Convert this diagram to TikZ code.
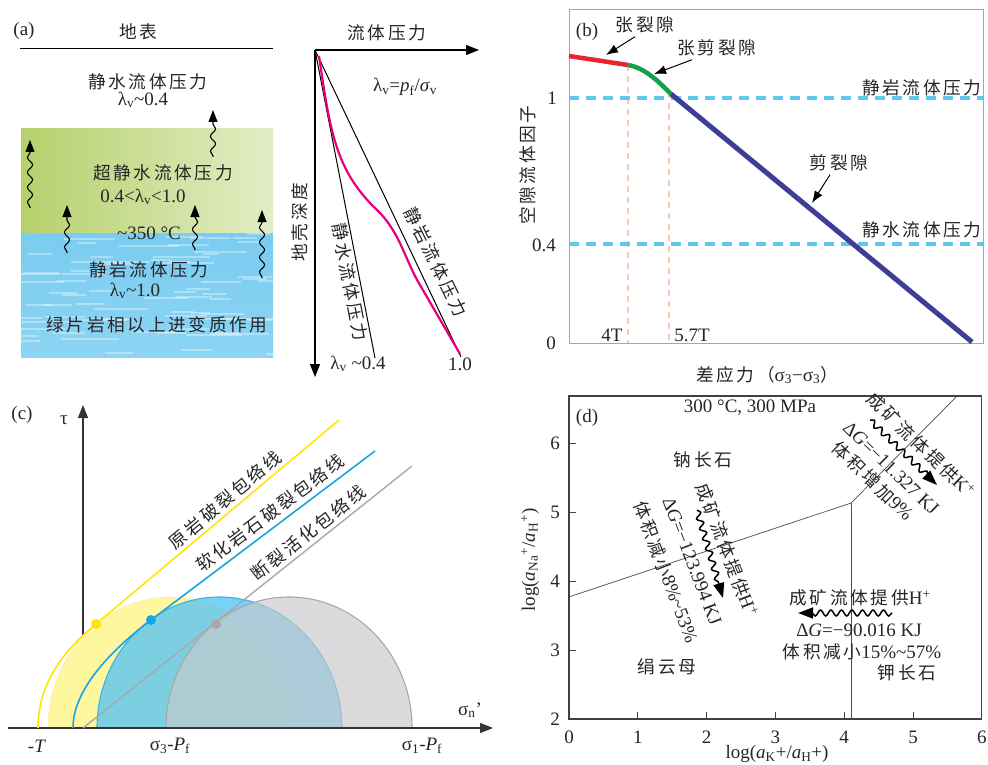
\documentclass[tikz,border=0pt]{standalone}
\usepackage{fontspec}
\setmainfont{Liberation Serif}
\newfontfamily\cjk[LetterSpace=15,Scale=0.93]{Noto Sans CJK SC}
\usetikzlibrary{arrows.meta}
\usetikzlibrary{decorations.pathmorphing}
\newcommand{\zh}[1]{{\cjk #1}}

\definecolor{grassL}{RGB}{182,208,108}
\definecolor{grassR}{RGB}{226,237,198}
\definecolor{seaT}{RGB}{122,204,240}
\definecolor{seaB}{RGB}{140,212,244}
\definecolor{pfCurve}{RGB}{230,0,126}
\definecolor{tensRed}{RGB}{232,38,42}
\definecolor{mixGreen}{RGB}{20,160,75}
\definecolor{shearBlue}{RGB}{62,62,150}
\definecolor{waterDash}{RGB}{95,200,240}
\definecolor{peachDash}{RGB}{249,200,180}
\definecolor{envYellow}{RGB}{255,230,0}
\definecolor{circYellow}{RGB}{255,246,160}
\definecolor{envBlue}{RGB}{25,165,225}
\definecolor{circBlue}{RGB}{90,198,240}
\definecolor{envGray}{RGB}{168,168,168}
\definecolor{circGray}{RGB}{200,201,204}

\tikzset{
  wavy/.style={line width=1.1pt, decorate,
    decoration={snake, amplitude=2.6pt, segment length=15pt, pre length=1pt, post length=9pt},
    -{Triangle[length=12pt,width=9pt]}},
  bigwavy/.style={line width=1.5pt, decorate,
    decoration={snake, amplitude=3pt, segment length=10.5pt, post length=12pt},
    -{Triangle[length=15pt,width=11pt]}},
  axis/.style={line width=1.4pt, -{Triangle[length=13pt,width=10pt]}},
  ptr/.style={line width=1pt, -{Latex[length=12pt,width=9pt]}},
  waterline/.style={waterDash, line width=3.5pt, dash pattern=on 10pt off 7pt},
  peakline/.style={peachDash, line width=2pt, dash pattern=on 6pt off 5pt},
}

\begin{document}
\begin{tikzpicture}[x=1pt,y=-1pt,font=\fontsize{19}{22}\selectfont,text=black!85]
\fill[white] (0,0) rectangle (988,765);
\path[use as bounding box] (0,0) rectangle (988,765);

% (a) fluid pressure regimes
\node (tagA) at (24,31) {(a)};
\node (surf) at (138,32) {\zh{地表}};
\draw[line width=1pt] (20,49) -- (273,49);
\shade[left color=grassL, right color=grassR] (21,129) rectangle (273,233);
\shade[top color=seaT, bottom color=seaB] (21,233) rectangle (273,357);
\begin{scope}
  \clip (21,233) rectangle (273,357);
  \pgfmathsetseed{11}
  \foreach \k in {1,...,70}{
    \pgfmathsetmacro\sx{10+rnd*260}
    \pgfmathsetmacro\sy{233+rnd*124}
    \pgfmathsetmacro\sl{15+rnd*45}
    \draw[white, opacity=0.35, line width=2pt] (\sx,\sy) -- ++(\sl,0);
  }
\end{scope}
\node (hydA) at (148,82) {\zh{静水流体压力}};
\node (hydL) at (143,100) {λ\textsubscript{v}\textasciitilde 0.4};
\node (supA) at (163,173) {\zh{超静水流体压力}};
\node (supL) at (143,197) {0.4<λ\textsubscript{v}<1.0};
\node (temp) at (149,233) {\textasciitilde 350 °C};
\node (litA) at (149,270) {\zh{静岩流体压力}};
\node (litL) at (135,291) {λ\textsubscript{v}\textasciitilde 1.0};
\node (meta) at (157,325) {\zh{绿片岩相以上进变质作用}};
\draw[wavy] (30,208) -- (30,140);
\draw[wavy] (67,253) -- (67,205);
\draw[wavy] (195,250) -- (195,205);
\draw[wavy] (262,278) -- (262,210);
\draw[wavy] (213,157) -- (213,110);

\coordinate (o) at (315,50);
\draw[axis] (o) -- (479,50);
\draw[axis] (o) -- (315,377);
\node (pfAx) at (387,33) {\zh{流体压力}};
\node (dpAx) at (300,222) [rotate=90] {\zh{地壳深度}};
\node (ratio) at (405,87) {λ\textsubscript{v}=\textit{p}\textsubscript{f}/\textit{σ}\textsubscript{v}};
\draw[line width=1pt] (o) -- (375,358);
\draw[line width=1pt] (o) -- (461,357);
\draw[pfCurve, line width=2.2pt] (319,56) .. controls (330,130) and (335,170) .. (377,210)
  .. controls (400,232) and (405,260) .. (420,285) -- (460,354);
\node[rotate=-79] (hydLn) at (350,282) {\zh{静水流体压力}};
\node[rotate=-64] (litLn) at (436,262) {\zh{静岩流体压力}};
\node (lam4) at (358,364) {λ\textsubscript{v} \textasciitilde 0.4};
\node (lam1) at (460,364) {1.0};

% (b) pore fluid factor
\draw[gray!70, line width=1pt] (569,10) rectangle (983,343);
\draw[peakline] (628,65) -- (628,343);
\draw[peakline] (669,92) -- (669,343);
\draw[waterline] (569,98) -- (983,98);
\draw[waterline] (569,244) -- (983,244);
\draw[tensRed, line width=4.5pt] (569,56) -- (628,65);
\draw[mixGreen, line width=4.5pt] (628,65) .. controls (645,68) and (658,81) .. (671,94);
\draw[shearBlue, line width=5pt] (671,94) -- (972,342);
\node (tagB) at (587,32) {(b)};
\node (yb1) at (552,98) {1};
\node (yb4) at (544,245) {0.4};
\node (yb0) at (551,343) {0};
\node (x4T) at (612,335) {4T};
\node (x57T) at (692,335) {5.7T};
\node (litB) at (922,88) {\zh{静岩流体压力}};
\node (hydB) at (922,230) {\zh{静水流体压力}};
\node[rotate=90] (yB) at (528,165) {\zh{空隙流体因子}};
\node (xB) at (767,375) {\zh{差应力（}σ\textsubscript{3}−σ\textsubscript{3}\zh{）}};
\node (tens) at (645,25) {\zh{张裂隙}};
\node (tsh) at (717,48) {\zh{张剪裂隙}};
\node (shr) at (839,163) {\zh{剪裂隙}};
\coordinate (tensP) at (606,55);
\coordinate (tshP) at (654,74);
\coordinate (shrP) at (812,203);
\draw[ptr] ([xshift=-10pt]tens.south) -- (tensP);
\draw[ptr] ([xshift=-25pt]tsh.south) -- (tshP);
\draw[ptr] ([xshift=-9pt]shr.south) -- (shrP);

% (c) Mohr circles
\node (tagC) at (22,415) {(c)};
\node (tau) at (64,420) {τ};
\draw[axis, black!80, line width=1.2pt] (83,728) -- (83,405);
\filldraw[fill=circYellow, draw=circYellow!80!orange!60] (48,728) arc[start angle=180, end angle=360, x radius=122.5, y radius=131];
\filldraw[fill=circBlue, fill opacity=0.8, draw=envBlue!85, line width=1.1pt] (97,728) arc[start angle=180, end angle=360, x radius=122.5, y radius=131];
\filldraw[fill=circGray, fill opacity=0.65, draw=envGray, line width=1.1pt] (166,728) arc[start angle=180, end angle=360, x radius=123, y radius=131];
\draw[axis, black!80, line width=1.2pt] (8,728) -- (493,728);
\draw[envYellow, line width=1.6pt] (38,728) .. controls (38,685) and (62,652) .. (96,624) -- (339,420);
\draw[envBlue, line width=1.6pt] (73,728) .. controls (73,690) and (110,651) .. (151,620) -- (375,451);
\draw[envGray, line width=1.4pt] (83,728) -- (412,466);
\fill[envYellow] (96,624) circle (5);
\fill[envBlue] (151,620) circle (5);
\fill[envGray] (216,624) circle (5);
\node[rotate=40] (envA) at (225,500) {\zh{原岩破裂包络线}};
\node[rotate=37] (envB) at (270,513) {\zh{软化岩石破裂包络线}};
\node[rotate=38.5] (envC) at (308,533) {\zh{断裂活化包络线}};
\node (sn) at (470,710) {σ\textsubscript{n}’};
\node (negT) at (37,746) {-\textit{T}};
\node (s3) at (170,746) {σ\textsubscript{3}-\textit{P}\textsubscript{f}};
\node (s1) at (422,746) {σ\textsubscript{1}-\textit{P}\textsubscript{f}};

% (d) activity diagram
\begin{scope}[shift={(569,719)}, x=68.8pt, y=69pt]
  \draw[black!75, line width=1.3pt] (0,0) rectangle (6,4.68);
  \foreach \i in {1,...,5}
    \draw[black!75, line width=1pt] (\i,0) -- (\i,0.1);
  \foreach \j in {3,...,6}
    \draw[black!75, line width=1pt] (0,\j-2) -- (0.1,\j-2);
  \foreach \i in {0,...,6}
    \node (xd\i) at (\i,-0.26) {\i};
  \foreach \j in {2,...,6}
    \node (yd\j) at (-0.2,\j-2) {\j};
  \draw[black!70, line width=0.7pt] (0,1.77) -- (4.1,3.13) -- (5.64,4.68);
  \draw[black!70, line width=0.7pt] (4.1,3.13) -- (4.1,0);
\end{scope}
\node (tagD) at (587,418) {(d)};
\node (cond) at (750,408) {300 °C, 300 MPa};
\node (ab) at (703,460) {\zh{钠长石}};
\node (ser) at (667,667) {\zh{绢云母}};
\node (kfs) at (907,673) {\zh{钾长石}};
\node (xD) at (777,754) {log(\textit{a}\textsubscript{K}+/\textit{a}\textsubscript{H}+)};
\node[rotate=90] (yD) at (530,560) {log(\textit{a}\textsubscript{Na}\textsuperscript{+}/\textit{a}\textsubscript{H}\textsuperscript{+})};

\node[rotate=-44] (kUp) at (921,445) {\zh{成矿流体提供}K\textsuperscript{+}};
\node[rotate=-44] (kG) at (891,468) {Δ\textit{G}=−11.327 KJ};
\node[rotate=-44] (kV) at (873,481) {\zh{体积增加}9\%};
\coordinate (kA) at (870,420);
\coordinate (kB) at (937,485);
\draw[bigwavy] (kA) -- (kB);

\node[rotate=-69] (hUp) at (727,550) {\zh{成矿流体提供}H\textsuperscript{+}};
\node[rotate=-69] (hG) at (692,561) {Δ\textit{G}=−123.994 KJ};
\node[rotate=-69] (hV) at (666,572) {\zh{体积减小}8\%\textasciitilde 53\%};
\coordinate (hA) at (697,510);
\coordinate (hB) at (723,598);
\draw[bigwavy] (hA) -- (hB);

\node (rUp) at (860,598) {\zh{成矿流体提供}H\textsuperscript{+}};
\node (rG) at (859,630) {Δ\textit{G}=−90.016 KJ};
\node (rV) at (862,652) {\zh{体积减小}15\%\textasciitilde 57\%};
\coordinate (rA) at (892,613);
\coordinate (rB) at (798,613);
\draw[bigwavy] (rA) -- (rB);
\end{tikzpicture}
\end{document}
